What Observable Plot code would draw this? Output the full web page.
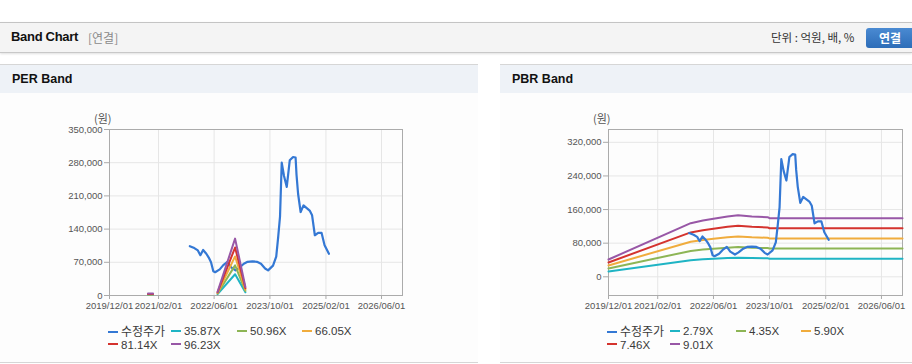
<!DOCTYPE html>
<html><head><meta charset="utf-8">
<script src="https://cdn.jsdelivr.net/npm/d3@7"></script>
<script src="https://cdn.jsdelivr.net/npm/@observablehq/plot@0.6"></script>
<style>
body{margin:0;background:#fff;font-family:"Liberation Sans","Noto Sans CJK KR",sans-serif;}
#root{position:relative;width:912px;height:364px;overflow:hidden;background:#fff;}
.abs{position:absolute;white-space:nowrap;}
.hdr{position:absolute;left:0;top:22px;width:912px;height:29px;background:#f4f4f4;border-top:1px solid #c4c4c4;border-bottom:1px solid #c8c8c8;box-shadow:0 1px 2px rgba(0,0,0,0.12);}
.panel{position:absolute;top:64px;height:297px;border-top:1px solid #d6d6d6;border-bottom:1px solid #d6d6d6;background:#fdfdfd;}
.phead{position:absolute;left:0;top:0;right:0;height:28px;background:#eef2f7;}
.ptitle{position:absolute;left:12px;top:0;line-height:29px;font-weight:bold;font-size:12.5px;color:#111;}
.unit{font-family:"Noto Sans CJK KR",sans-serif;font-size:11px;color:#555;}
.leg{position:absolute;height:14px;line-height:14px;font-size:11.5px;color:#3a3a3a;white-space:nowrap;}
.leg i{display:inline-block;width:10px;height:2px;vertical-align:middle;margin-right:3px;position:relative;top:-1px;}
</style>
</head><body>
<div id="root">
  <div class="hdr">
    <div class="abs" style="left:11px;top:6px;font-weight:bold;font-size:13px;letter-spacing:-0.3px;color:#111;">Band Chart</div>
    <div class="abs" style="left:88px;top:7px;font-size:12px;color:#8a8a8a;font-family:'Noto Sans CJK KR',sans-serif;line-height:15px;">[연결]</div>
    <div class="abs" style="left:771px;top:6px;font-size:11.5px;color:#333;font-family:'Noto Sans CJK KR',sans-serif;line-height:17px;">단위 : 억원, 배, %</div>
    <div class="abs" style="left:866px;top:5px;width:48px;height:20px;border-radius:3px;background:linear-gradient(#4a8ad2,#2d6db8);color:#fff;font-weight:bold;font-size:12px;line-height:20px;text-align:center;font-family:'Noto Sans CJK KR',sans-serif;">연결</div>
  </div>
  <div class="panel" style="left:0;width:478px;"><div class="phead"></div><div class="ptitle">PER Band</div></div>
  <div class="panel" style="left:500px;width:412px;"><div class="phead"></div><div class="ptitle">PBR Band</div></div>
  <div class="abs unit" style="left:94px;top:110px;">(원)</div>
  <div class="abs unit" style="left:593px;top:110px;">(원)</div>
  <div id="per" class="abs" style="left:0;top:105px;"></div>
  <div id="pbr" class="abs" style="left:500px;top:105px;"></div>
</div>
<script>
// ---- data ----
const xTickLabels = ["2019/12/01","2021/02/01","2022/06/01","2023/10/01","2025/02/01","2026/06/01"];
const xDomainLabels = ["2019/12/01","2026/12/01"];
const perYTicks = [0,70000,140000,210000,280000,350000];
const pbrYTicks = [0,80000,160000,240000,320000];
const perYDomain = [0,350000];
const pbrYDomain = [-44500,350500];

const priceName = "수정주가";
const priceDates = ["2021-11-01","2021-12-10","2022-01-10","2022-02-01","2022-02-25","2022-03-25","2022-04-15","2022-05-05","2022-05-25","2022-06-10","2022-07-20","2022-08-20","2022-09-25","2022-10-25","2022-12-05","2023-01-05","2023-02-15","2023-03-20","2023-05-01","2023-06-10","2023-07-15","2023-08-20","2023-09-15","2023-10-28","2023-11-25","2023-12-12","2023-12-28","2024-01-12","2024-02-01","2024-02-25","2024-03-22","2024-04-20","2024-05-12","2024-05-20","2024-06-03","2024-06-25","2024-07-20","2024-09-12","2024-10-03","2024-10-27","2024-11-25","2024-12-25","2025-01-20","2025-02-27"];
const priceValues = [104000,100000,95000,85000,96000,88000,80000,70000,51000,49000,55000,64000,71000,60000,53000,58000,67000,71000,72000,71000,67000,57000,53000,63000,82000,123000,166000,280000,252000,229000,285000,292000,291000,255000,214000,176000,190000,179000,169000,127000,132000,132000,106000,88000];

const perBandNames = ["35.87X","50.96X","66.05X","81.14X","96.23X"];
const perBandDates = ["2020-11-01","2020-12-15","2021-06-01","2022-07-01","2022-12-01","2023-03-01"];
const per3587 = [1510,1510,null,2870,44730,6740];
const per5096 = [2140,2140,null,4080,63550,9580];
const per6605 = [2770,2770,null,5280,82370,12420];
const per8114 = [3410,3410,null,6490,101180,15250];
const per9623 = [4040,4040,null,7700,120000,18090];

const pbrBandNames = ["2.79X","4.35X","5.90X","7.46X","9.01X"];
const pbrBandDates = ["2019-12-01","2021-11-15","2022-03-01","2022-06-01","2022-10-01","2023-01-01","2023-05-01","2023-09-15","2023-10-01","2026-12-01"];
const pbr279 = [12750,39510,41490,42740,44440,45390,44440,43910,43190,43190];
const pbr435 = [19880,61600,64680,66640,69300,70770,69300,68470,67340,67340];
const pbr590 = [26960,83540,87730,90390,93990,95990,93990,92870,91330,91330];
const pbr746 = [34090,105630,110930,114290,118840,121370,118840,117420,115480,115480];
const pbr901 = [41180,127580,133980,138030,143530,146590,143530,141820,139470,139470];

const priceColor = "#3478d4";
const bandColors = ["#1fb4c4","#8db555","#f0ac3d","#d4332e","#9857a6"];

// ---- build ----
const parseSlash = d3.utcParse("%Y/%m/%d");
const parseISO = d3.utcParse("%Y-%m-%d");
const xTicks = xTickLabels.map(parseSlash);
const xDomain = xDomainLabels.map(parseSlash);
const rows = (dates, vals) => dates.map((d,i)=>({date: parseISO(d), value: vals[i]}));
const priceRows = rows(priceDates, priceValues);

function chart(el, opts){
  const {width, marginLeft, marginRight, yDomain, yTicks, bands, bandDates, priceOnTop} = opts;
  const priceMark = Plot.line(priceRows, {x:"date", y:"value", stroke: priceColor, strokeWidth: 2.2});
  const bandMarks = bands.map((vals,i)=>Plot.line(rows(bandDates, vals), {x:"date", y:"value", stroke: bandColors[i], strokeWidth: 2}));
  const svg = Plot.plot({
    width, height: 210, marginLeft, marginRight, marginTop: 24, marginBottom: 20,
    style: {fontFamily: '"Liberation Sans", sans-serif', fontSize: "9.5px", color: "#555", background: "transparent", overflow: "visible"},
    x: {type: "utc", domain: xDomain},
    y: {domain: yDomain},
    marks: [
      Plot.gridX(xTicks, {stroke: "#e6e6e6", strokeOpacity: 1}),
      Plot.gridY(yTicks, {stroke: "#e6e6e6", strokeOpacity: 1}),
      Plot.frame({stroke: "#ababab"}),
      Plot.axisY(yTicks, {tickFormat: d3.format(","), tickSize: 5, tickPadding: 2, stroke: "#aaa", fill: "#555", label: null}),
      Plot.axisX(xTicks, {tickFormat: d3.utcFormat("%Y/%m/%d"), tickSize: 4, tickPadding: 3, stroke: "#aaa", fill: "#555", label: null}),
      ...(priceOnTop ? [...bandMarks, priceMark] : [priceMark, ...bandMarks])
    ]
  });
  document.getElementById(el).appendChild(svg);
}

chart("per", {width: 478, marginLeft: 109, marginRight: 76, yDomain: perYDomain, yTicks: perYTicks,
  bands: [per3587, per5096, per6605, per8114, per9623], bandDates: perBandDates, priceOnTop: false});
chart("pbr", {width: 412, marginLeft: 108, marginRight: 10, yDomain: pbrYDomain, yTicks: pbrYTicks,
  bands: [pbr279, pbr435, pbr590, pbr746, pbr901], bandDates: pbrBandDates, priceOnTop: true});

function legend(x0, names){
  const items = [{name: priceName, color: priceColor}, ...names.map((n,i)=>({name:n, color: bandColors[i]}))];
  const cols = [0, 63, 129, 194];
  const root = document.getElementById("root");
  items.forEach((it, i)=>{
    const r = Math.floor(i/4), c = i%4;
    const d = document.createElement("div");
    d.className = "leg";
    d.style.left = (x0 + cols[c]) + "px";
    d.style.top = (324 + r*13.5) + "px";
    if (it.name === priceName) { d.style.fontFamily = '"Noto Sans CJK KR", sans-serif'; d.style.fontSize = "12px"; }
    d.innerHTML = `<i style="background:${it.color}"></i>`;
    d.appendChild(document.createTextNode(it.name));
    root.appendChild(d);
  });
}
legend(108, perBandNames);
legend(607, pbrBandNames);
</script>
</body></html>
